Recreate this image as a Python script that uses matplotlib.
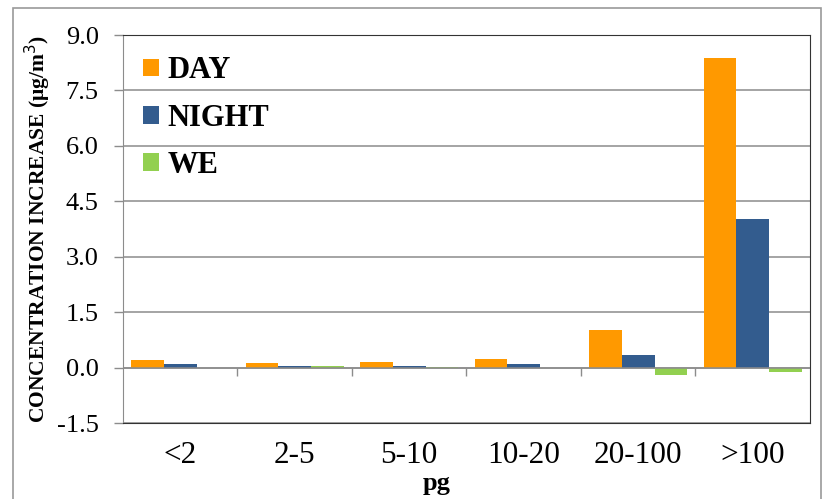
import numpy as np
import matplotlib
matplotlib.use("Agg")
import matplotlib.pyplot as plt
from matplotlib.patches import Rectangle

# data
categories = ["<2", "2-5", "5-10", "10-20", "20-100", ">100"]
day = [0.20, 0.13, 0.16, 0.24, 1.02, 8.38]
night = [0.09, 0.05, 0.04, 0.09, 0.33, 4.03]
we = [0.00, 0.03, 0.02, 0.00, -0.20, -0.12]
series_names = ["DAY", "NIGHT", "WE"]
yticks = [-1.5, 0.0, 1.5, 3.0, 4.5, 6.0, 7.5, 9.0]

colors = ["#FF9900", "#335C8E", "#92D050"]
serif = ["Liberation Serif", "DejaVu Serif"]

fig = plt.figure(figsize=(8.23, 4.99), dpi=100)
ax = fig.add_axes([123 / 823, 1 - 423 / 499, (810 - 123) / 823, (423 - 35) / 499])

x = np.arange(len(categories))
w = 0.285
for i, (vals, name) in enumerate(zip([day, night, we], series_names)):
    ax.bar(x + (i - 1) * w, vals, w, color=colors[i], label=name, zorder=3)

ax.set_xlim(-0.5, len(categories) - 0.5)
ax.set_ylim(yticks[0], yticks[-1])
ax.set_yticks(yticks)
ax.set_yticklabels([f"{t:.1f}" for t in yticks], fontfamily=serif, fontsize=19)
ax.yaxis.grid(True, color="#8c8c8c", linewidth=1.1, zorder=0)
ax.tick_params(axis="y", direction="out", length=6.5, width=1, color="#8c8c8c", pad=11)

ax.set_xticks(x)
ax.set_xticklabels(categories, fontfamily=serif, fontsize=22.5)
ax.tick_params(axis="x", length=0, pad=13)

# category axis crossing at zero with boundary ticks
ax.axhline(0, color="#8c8c8c", linewidth=1.1, zorder=4)
bounds = np.arange(0.5, len(categories) - 0.5, 1.0)
ax.vlines(bounds, -0.22, 0, color="#8c8c8c", linewidth=1, zorder=4)

for side in ["top", "right", "bottom"]:
    ax.spines[side].set_color("#333333")
ax.spines["left"].set_color("#8c8c8c")

ax.set_ylabel("CONCENTRATION INCREASE (\u03bcg/m$^3$)", fontfamily=serif,
              fontsize=15.5, fontweight="bold", labelpad=3)
ax.set_xlabel("pg", fontfamily=serif, fontsize=19, fontweight="bold", labelpad=0,
              va="baseline")
ax.xaxis.set_label_coords(0.457, -0.172)

leg = ax.legend(loc="upper left", frameon=False, prop={"family": serif, "size": 22, "weight": "bold"},
                handlelength=0.5, handleheight=0.5, handletextpad=0.3, labelspacing=0.6,
                bbox_to_anchor=(-0.006, 1.008), borderaxespad=0.4)

# outer chart frame
fig.patches.append(Rectangle((13 / 823, -0.02), (821 - 13) / 823, 1 - 8 / 499 + 0.02,
                             transform=fig.transFigure, fill=False, edgecolor="#9a9a9a",
                             linewidth=1.2, clip_on=False))

fig.savefig("out.png", dpi=100)
